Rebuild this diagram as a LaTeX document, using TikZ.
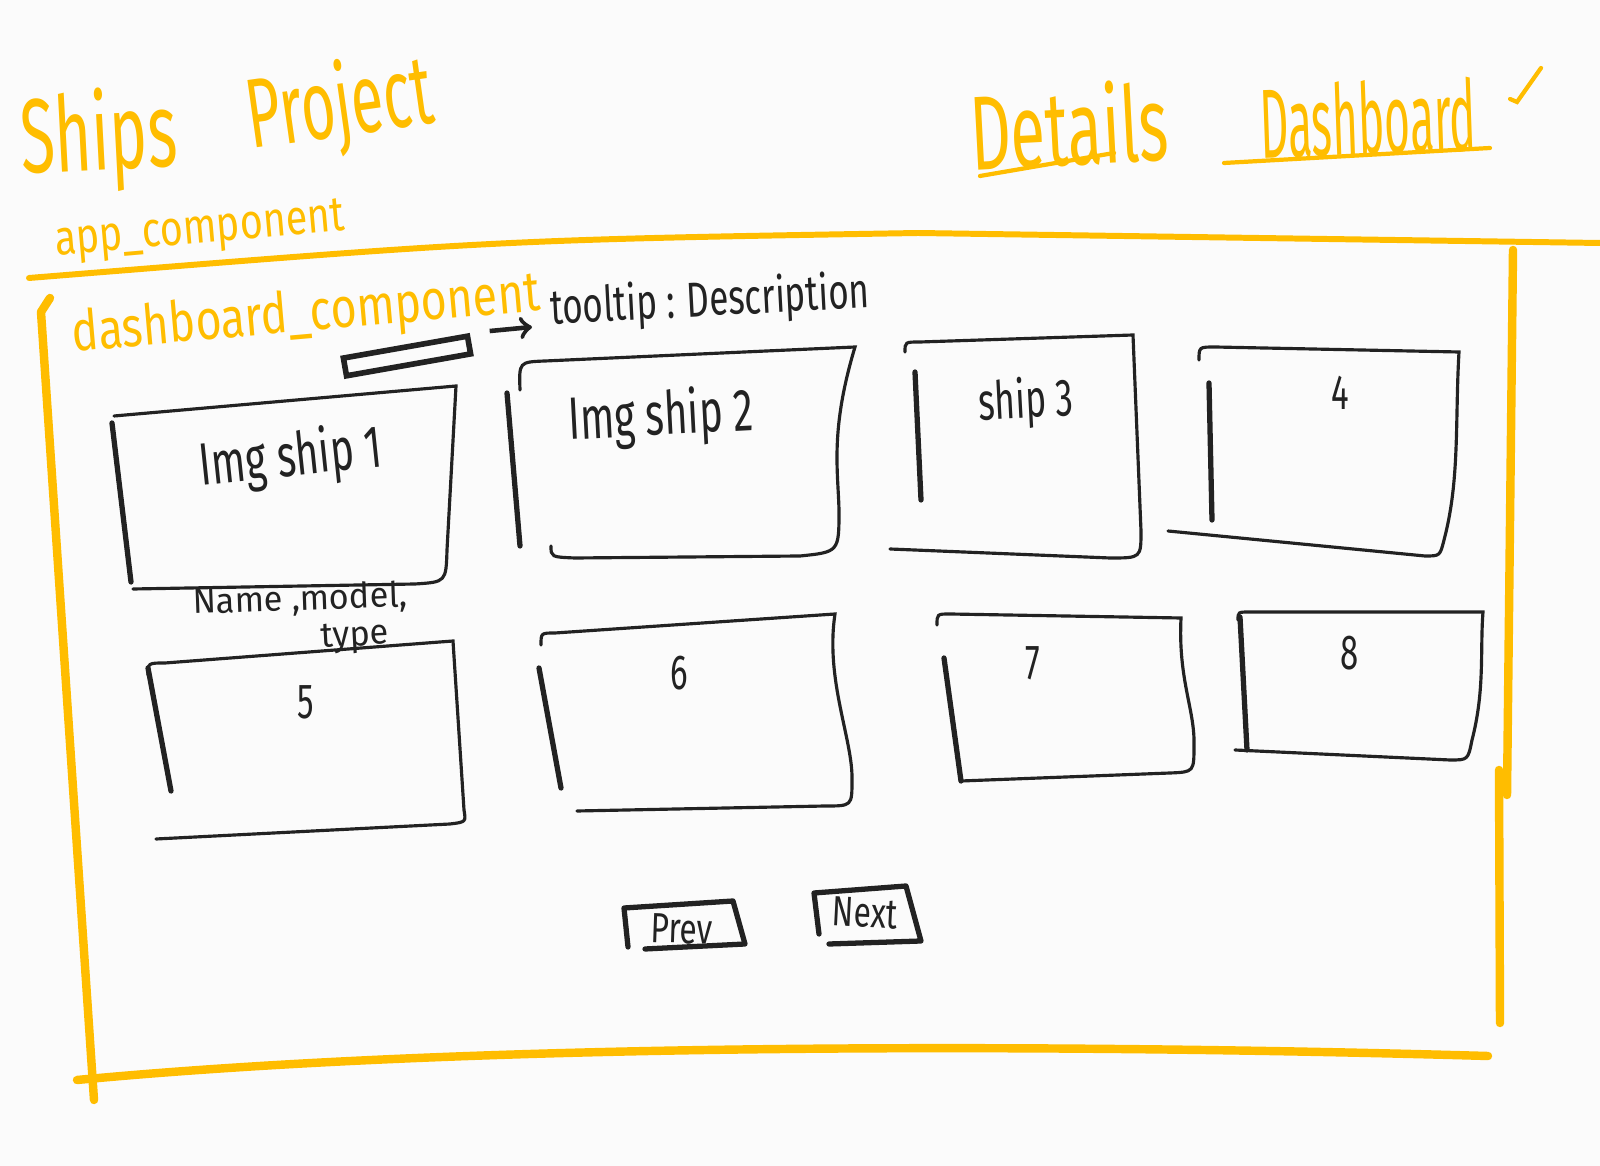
\documentclass[tikz,border=0pt]{standalone}
\usepackage{fontspec}
\setmainfont{Fira Sans}
\usepackage{tikz}
\usetikzlibrary{arrows}
\definecolor{marker}{RGB}{255,189,0}
\definecolor{pen}{RGB}{34,34,34}
\definecolor{paper}{RGB}{251,251,251}

\begin{document}
\begin{tikzpicture}[x=0.1mm,y=-0.1mm]
      \tikzstyle{yellow_text}=[text=marker, inner sep=0pt, xscale=0.6]
      \tikzstyle{small_yellow}=[text=marker, inner sep=0pt, xscale=0.75]
      \tikzstyle{yellow_line}=[draw=marker, line width=1.7pt, line cap=round]
      \tikzstyle{under_line}=[draw=marker, line width=1.2pt, line cap=round]
      \tikzstyle{frame_line}=[draw=marker, line width=2.4pt, line cap=round, line join=round]
      \tikzstyle{ship_card}=[draw=pen, line width=0.9pt, line cap=round]
      \tikzstyle{card_side}=[draw=pen, line width=1.5pt, line cap=round]
      \tikzstyle{card_text}=[text=pen, inner sep=0pt, xscale=0.67]
      \tikzstyle{small_text}=[text=pen, inner sep=0pt, xscale=0.75]
      \tikzstyle{btn_box}=[draw=pen, line width=1.5pt, line cap=round, line join=round]
      \tikzstyle{tip_bar}=[draw=pen, line width=1.6pt, minimum width=12.6mm, minimum height=1.8mm, inner sep=0pt]

      \fill[paper] (0,0) rectangle (1600,1166);
      \useasboundingbox (0,0) rectangle (1600,1166);

      \begin{scope}
        \node[rotate=3, yellow_text, font=\fontsize{30}{32}\selectfont] (ships) at (99,140) {Ships};
        \node[rotate=8, yellow_text, font=\fontsize{28}{30}\selectfont] (project) at (340,108) {Project};
        \node[rotate=3, yellow_text, font=\fontsize{30}{32}\selectfont] (details) at (1069,125) {Details};
        \node[rotate=2, yellow_text, xscale=0.75, font=\fontsize{28}{30}\selectfont] (dashboard) at (1368,118) {Dashboard};
        \draw[under_line] (980,176) -- (1114,153);
        \draw[under_line] (1224,163) -- (1490,148);
        \draw[under_line] (1510,99) -- (1517,102) -- (1541,68);
      \end{scope}

      \begin{scope}
        \node[rotate=5, small_yellow, font=\fontsize{14}{16}\selectfont, xscale=1.07] (app) at (200,232) {app\_component};
        \draw[yellow_line] (29,278) .. controls (500,240) .. (918,233) -- (1600,243);
        \node[rotate=5, small_yellow, font=\fontsize{16}{18}\selectfont, xscale=1.06] (dash_comp) at (306,316) {dashboard\_component};
        \draw[frame_line] (50,298) -- (41,312) -- (94,1100);
        \draw[frame_line] (77,1080) .. controls (500,1040) and (1100,1045) .. (1488,1056);
        \draw[frame_line] (1513,250) -- (1507,795);
        \draw[frame_line] (1499,770) -- (1500,1023);
      \end{scope}

      \begin{scope}
        \node[rotate=10, tip_bar] (tip_bar) at (407,356) {};
        \node[rotate=3, small_text, xscale=0.95, font=\fontsize{14}{16}\selectfont] (tip_text) at (710,302) {tooltip : Description};
        \coordinate (tip_head) at (532,327);
        \draw[draw=pen, line width=1.3pt, ->, shorten <=2mm] (tip_bar.north east) -- (tip_head);
      \end{scope}

      \begin{scope}
        \draw[ship_card] (114,416) -- (456,386) -- (447,550) .. controls (446,582) .. (415,584) -- (133,589);
        \draw[card_side] (112,423) -- (131,582);
        \node[rotate=6, card_text, font=\fontsize{17}{19}\selectfont] (ship1) at (291,459) {Img ship 1};

        \draw[ship_card] (520,390) .. controls (519,362) .. (545,361) -- (855,347) .. controls (830,430) and (838,470) .. (839,510) .. controls (839,552) .. (800,556) -- (575,558) .. controls (551,557) .. (551,546);
        \draw[card_side] (507,393) -- (520,546);
        \node[rotate=3, card_text, font=\fontsize{17}{19}\selectfont] (ship2) at (661,418) {Img ship 2};

        \draw[ship_card] (905,352) .. controls (905,342) .. (920,342) -- (1133,335) -- (1141,531) .. controls (1141,558) .. (1110,558) -- (890,549);
        \draw[card_side] (915,372) -- (921,500);
        \node[rotate=3, card_text, font=\fontsize{15}{17}\selectfont] (ship3) at (1026,403) {ship 3};

        \draw[ship_card] (1199,360) .. controls (1199,347) .. (1215,347) -- (1459,352) .. controls (1455,420) and (1460,480) .. (1444,540) .. controls (1440,556) .. (1425,556) -- (1168,531);
        \draw[card_side] (1209,383) -- (1212,520);
        \node[card_text, font=\fontsize{14}{16}\selectfont] (ship4) at (1340,393) {4};
      \end{scope}

      \node[rotate=2, small_text, xscale=1.3, font=\fontsize{10}{12}\selectfont] (info) at (300,600) {Name ,model,};
      \node[rotate=3, small_text, xscale=1.3, font=\fontsize{10}{12}\selectfont] (info_type) at (355,638) {type};

      \begin{scope}
        \draw[ship_card] (148,675) .. controls (148,663) .. (165,663) -- (453,641) -- (464,810) .. controls (466,822) .. (450,824) -- (156,839);
        \draw[card_side] (148,668) -- (171,791);
        \node[card_text, font=\fontsize{14}{16}\selectfont] (ship5) at (306,702) {5};

        \draw[ship_card] (541,645) .. controls (541,633) .. (555,633) -- (835,614) .. controls (825,680) and (853,740) .. (852,780) .. controls (852,806) .. (825,806) -- (577,811);
        \draw[card_side] (539,668) -- (561,788);
        \node[card_text, font=\fontsize{14}{16}\selectfont] (ship6) at (679,673) {6};

        \draw[ship_card] (937,625) .. controls (937,614) .. (950,614) -- (1181,618) .. controls (1178,680) and (1195,710) .. (1194,745) .. controls (1194,772) .. (1170,773) -- (961,781);
        \draw[card_side] (944,658) -- (961,781);
        \node[card_text, font=\fontsize{14}{16}\selectfont] (ship7) at (1033,663) {7};

        \draw[ship_card] (1238,620) .. controls (1238,612) .. (1250,612) -- (1483,612) .. controls (1480,650) and (1485,690) .. (1472,740) .. controls (1468,760) .. (1450,760) -- (1235,750);
        \draw[card_side] (1240,617) -- (1247,750);
        \node[card_text, font=\fontsize{14}{16}\selectfont] (ship8) at (1350,653) {8};
      \end{scope}

      \begin{scope}
        \node[rotate=-2, small_text, font=\fontsize{12}{14}\selectfont] (prev) at (682,929) {Prev};
        \draw[btn_box] (628,947) -- (624,908) -- (733,901) -- (745,944) -- (645,949);
        \node[rotate=-3, small_text, font=\fontsize{12}{14}\selectfont] (next) at (865,913) {Next};
        \draw[btn_box] (819,934) -- (814,893) -- (906,886) -- (921,941) -- (829,944);
      \end{scope}
\end{tikzpicture}
\end{document}
